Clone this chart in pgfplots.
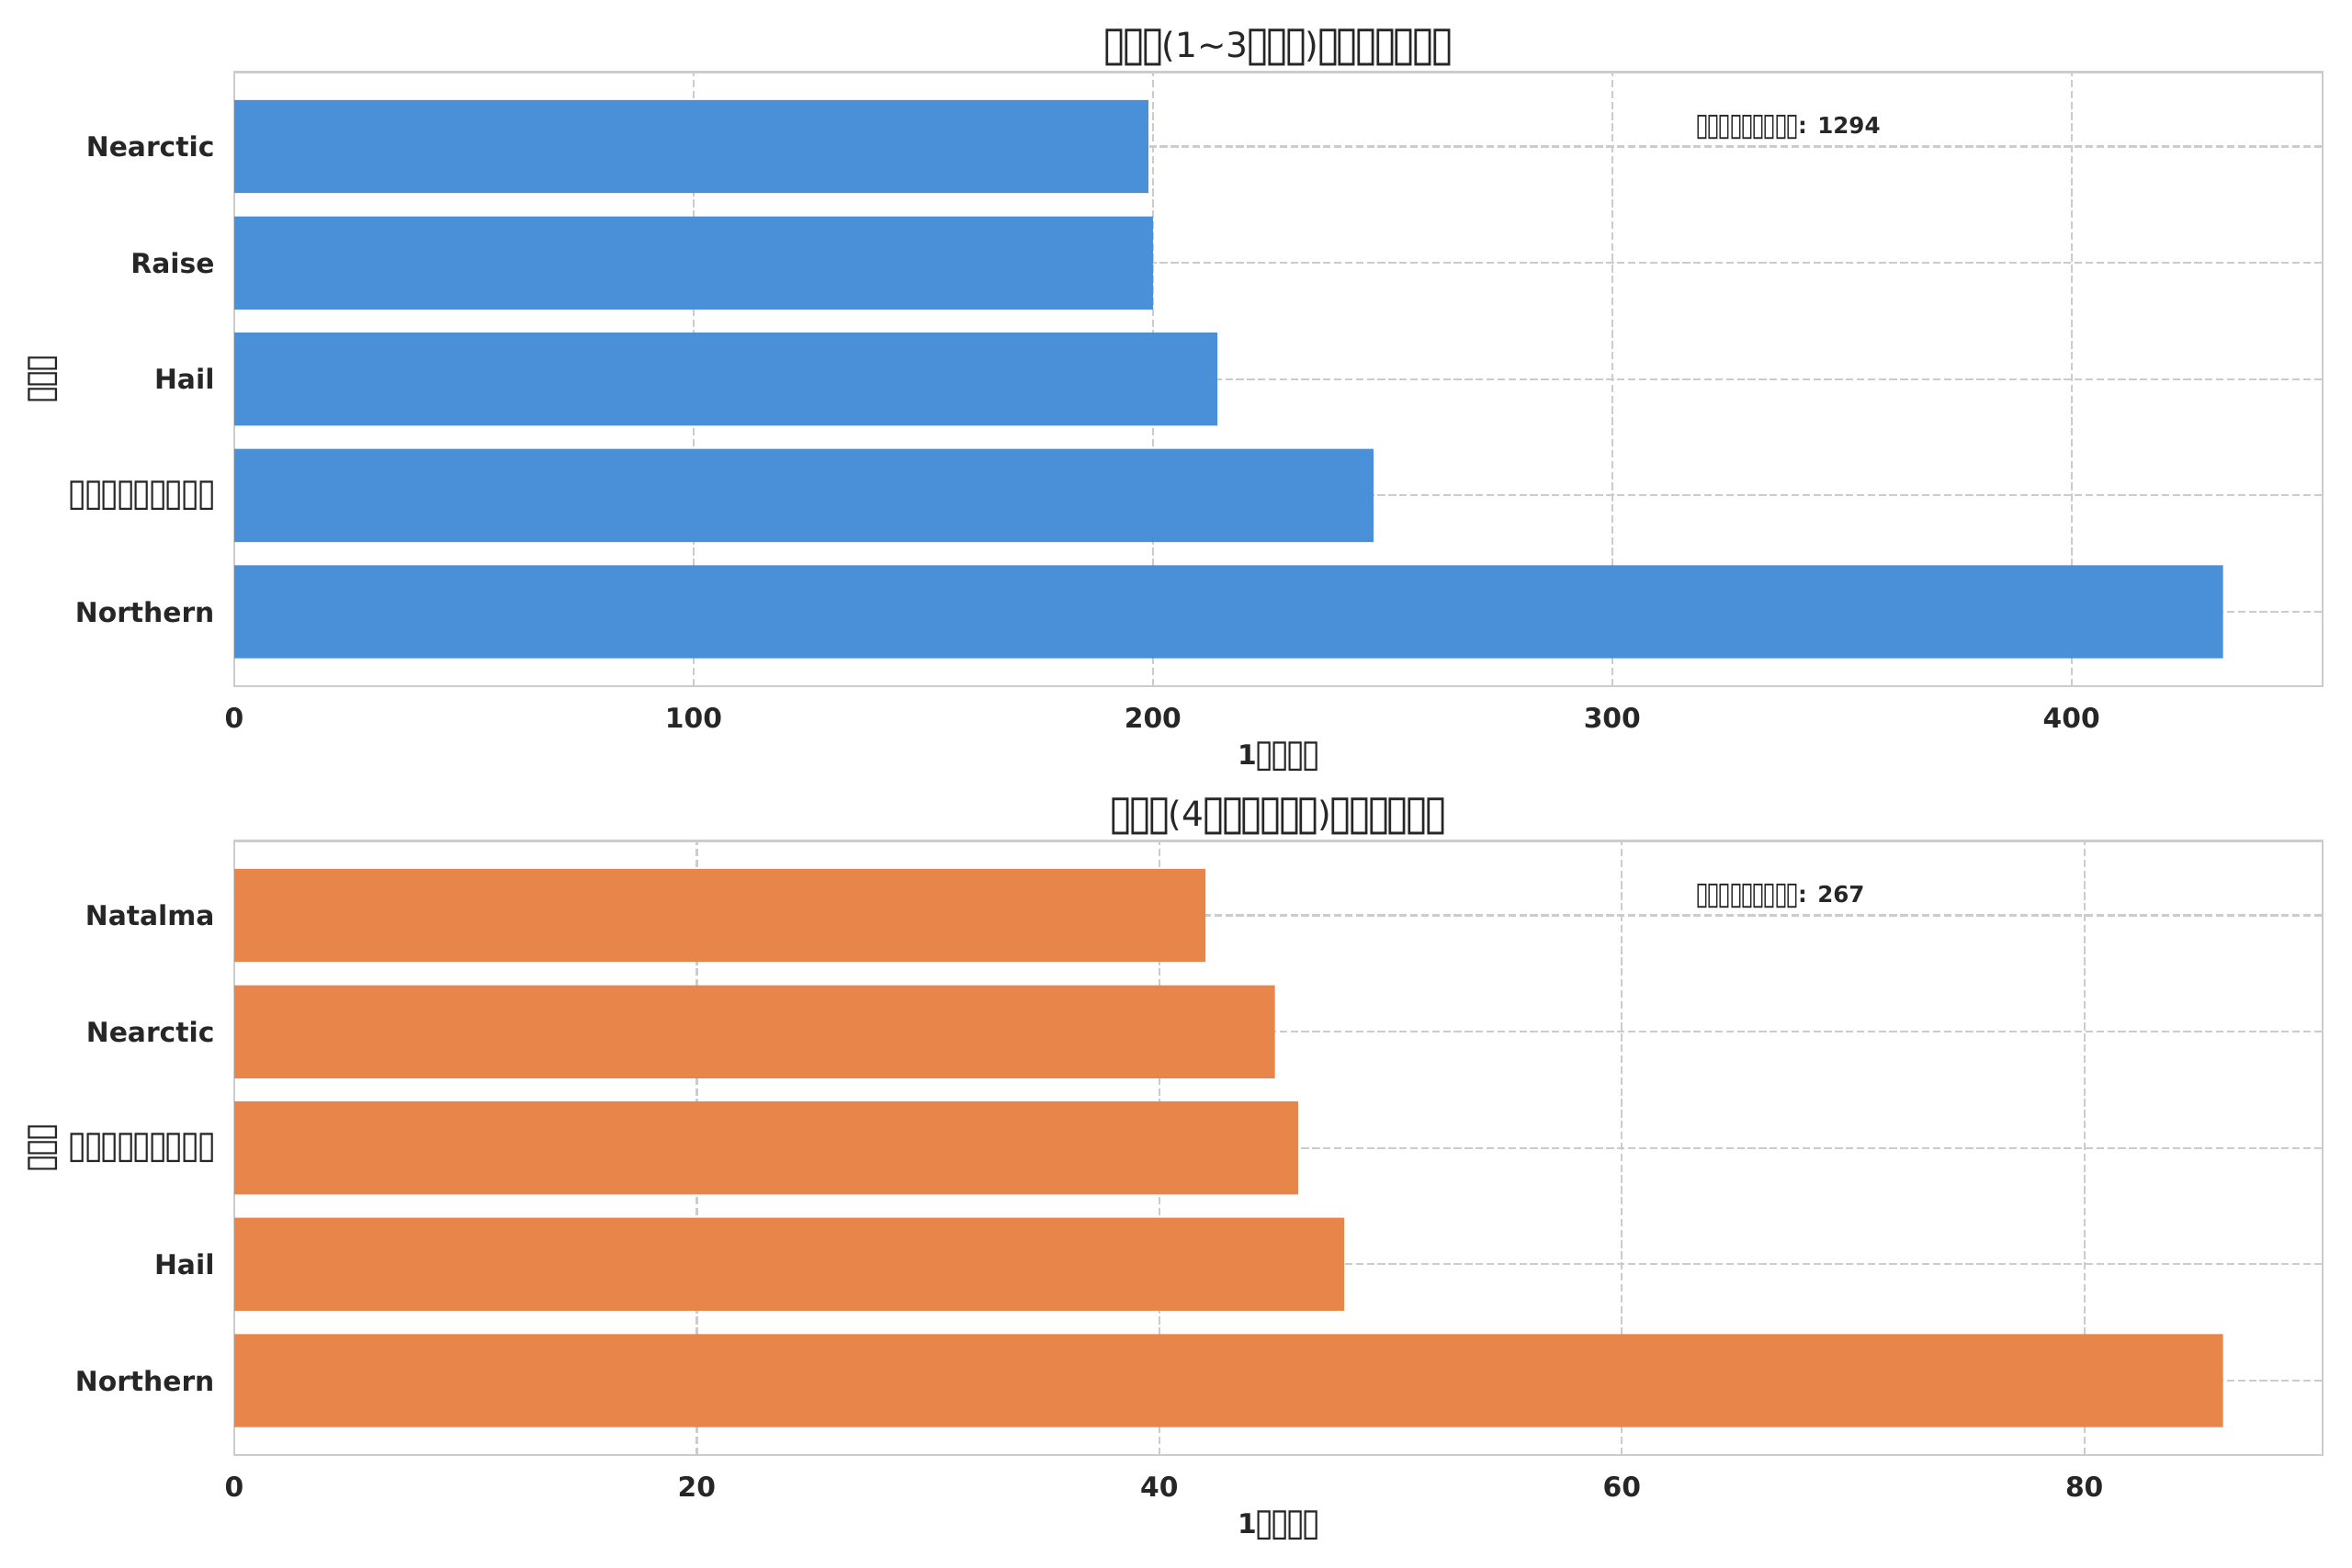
\documentclass[border=0pt]{standalone}
\usepackage{fontspec}
\setmainfont{DejaVu Sans}
\usepackage{graphicx}
\usepackage{pgfplots}
\pgfplotsset{compat=1.18}
\definecolor{barblue}{HTML}{4A90D9}
\definecolor{barorange}{HTML}{E8854A}
\definecolor{gridc}{HTML}{CCCCCC}
\definecolor{txt}{HTML}{262626}
\def\tbw{0.55em}
\def\tbs{1.3}
\newcommand\tb{\makebox[\tbw][c]{\mdseries\raisebox{-0.08em}{\scalebox{\tbs}[1.4]{▯}}}}
\pgfplotsset{
 mybar/.style={
  scale only axis, width=958.9bp, height=282bp,
  xbar, bar width=0.8,
  xmin=0, ymin=-0.64, ymax=4.64,
  ytick={0,1,2,3,4},
  axis line style={draw=gridc, line width=1.1bp},
  major tick length=0pt, tick style={draw=none},
  xmajorgrids, ymajorgrids,
  major grid style={draw=gridc, line width=0.95bp, dash pattern=on 3.5bp off 1.5bp},
  ticklabel style={font=\fontsize{12.6}{15}\selectfont\bfseries\def\tbw{0.59em}, text=txt},
  xticklabel style={anchor=base, yshift=-19bp, inner sep=0pt},
  yticklabel style={anchor=east, xshift=-8.9bp, inner sep=0pt},
  /pgf/number format/assume math mode=true,
  xlabel style={font=\fontsize{12.6}{15}\selectfont\bfseries\def\tbw{0.57em}, text=txt, at={(axis description cs:0.5,0)}, anchor=base, yshift=-35.9bp, inner sep=0pt},
  ylabel style={font=\fontsize{12.6}{15}\selectfont\bfseries\def\tbw{0.57em}, text=txt, at={(axis description cs:-0.0916,0.5)}, anchor=center, inner sep=0pt},
  every axis title/.style={font=\fontsize{15.9}{18}\selectfont, text=txt, at={(axis description cs:0.5,1)}, anchor=base, yshift=6.75bp, inner sep=0pt},
  xlabel={1\tb\tb\tb\tb},
  ylabel={\tb\tb\tb},
 }
}
\begin{document}
\begin{tikzpicture}
\path[use as bounding box] (0,0) rectangle (1080bp,720.14bp);
\begin{axis}[mybar, at={(107.58bp,405bp)}, anchor=south west,
  xmax=454.65, xtick={0,100,200,300,400},
  yticklabels={Northern,\tb\tb\tb\tb\tb\tb\tb\tb\tb,Hail,Raise,Nearctic},
  title={\tb\tb\tb(1\textasciitilde 3\tb\tb\tb)\tb\tb\tb\tb\tb\tb\tb}]
\addplot[fill=barblue, draw=none] coordinates {(433,0) (248,1) (214,2) (200,3) (199,4)};
\node[anchor=base west, inner sep=0pt, font=\fontsize{10.4}{12}\selectfont\bfseries\def\tbw{0.5em}\def\tbs{1.1}, text=txt] at (axis description cs:0.7,0.9) {\tb\tb\tb\tb\tb\tb\tb\tb\tb: 1294};
\end{axis}
\begin{axis}[mybar, at={(107.58bp,51.9bp)}, anchor=south west,
  xmax=90.3, xtick={0,20,40,60,80},
  yticklabels={Northern,Hail,\tb\tb\tb\tb\tb\tb\tb\tb\tb,Nearctic,Natalma},
  title={\tb\tb\tb(4\tb\tb\tb\tb\tb\tb)\tb\tb\tb\tb\tb\tb}]
\addplot[fill=barorange, draw=none] coordinates {(86,0) (48,1) (46,2) (45,3) (42,4)};
\node[anchor=base west, inner sep=0pt, font=\fontsize{10.4}{12}\selectfont\bfseries\def\tbw{0.5em}\def\tbs{1.1}, text=txt] at (axis description cs:0.7,0.9) {\tb\tb\tb\tb\tb\tb\tb\tb\tb: 267};
\end{axis}
\end{tikzpicture}
\end{document}
